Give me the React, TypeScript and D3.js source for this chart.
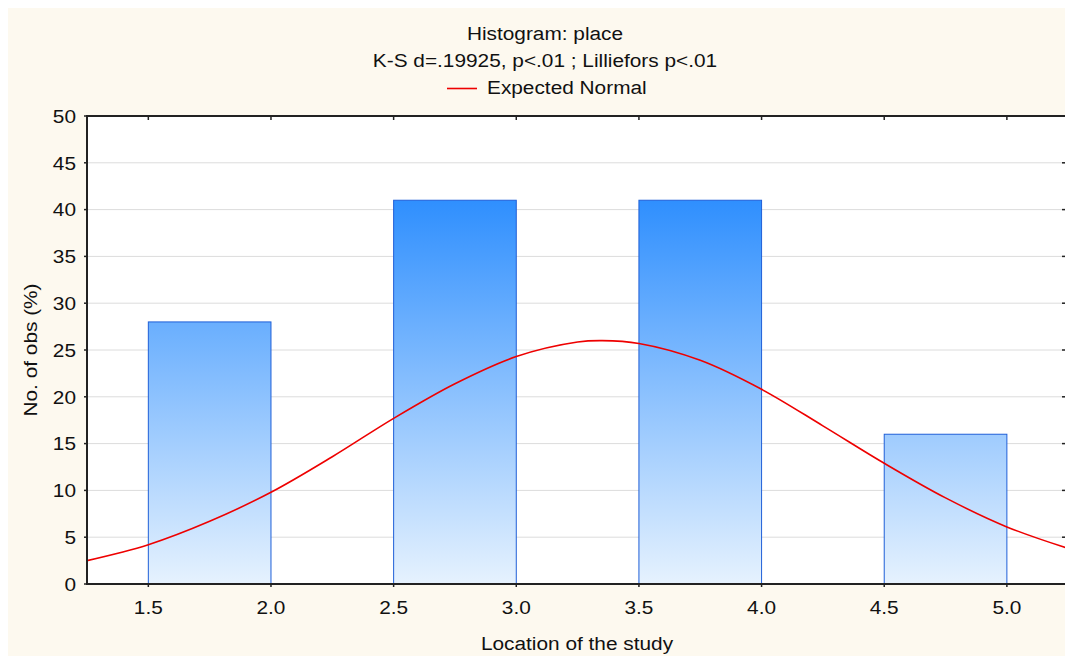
import React from "react";
import * as d3 from "d3";

const binStarts = [1.5, 2.5, 3.5, 4.5];
const binEnds = [2.0, 3.0, 4.0, 5.0];
const binPercents = [28, 41, 41, 16];

const curveX = [1.25, 1.5, 1.75, 2.0, 2.25, 2.5, 2.75, 3.0, 3.25, 3.35, 3.5, 3.75, 4.0, 4.25, 4.5, 4.75, 5.0, 5.25];
const curveY = [2.5, 4.2, 6.7, 9.8, 13.6, 17.7, 21.4, 24.3, 25.85, 26.0, 25.7, 23.9, 20.8, 16.9, 12.9, 9.2, 6.1, 3.8];

const xTicks = [1.5, 2.0, 2.5, 3.0, 3.5, 4.0, 4.5, 5.0];
const yTicks = [0, 5, 10, 15, 20, 25, 30, 35, 40, 45, 50];

const titleText = "Histogram: place";
const subtitleText = "K-S d=.19925, p<.01 ; Lilliefors p<.01";
const legendText = "Expected Normal";
const xLabel = "Location of the study";
const yLabel = "No. of obs (%)";

const W = 1065;
const H = 656;
const left = 87;
const top = 116;
const bottom = 584;
const FONT = "'Liberation Sans', Arial, sans-serif";
const FS = 18.6;
const SX = 1.12;

function T({ x, y, anchor = "middle", rotate = 0, children }: any) {
  return (
    <text
      transform={`translate(${x},${y}) rotate(${rotate}) scale(${SX},1)`}
      textAnchor={anchor}
      fontFamily={FONT}
      fontSize={FS}
      fill="#111"
    >
      {children}
    </text>
  );
}

export default function App() {
  const x = d3.scaleLinear().domain([1.25, 5.25]).range([left, left + 4 * 245.3]);
  const y = d3.scaleLinear().domain([0, 50]).range([bottom, top]);
  const right = x(5.25);

  const line = d3
    .line<number>()
    .x((_, i) => x(curveX[i]))
    .y((d) => y(d))
    .curve(d3.curveCatmullRom);

  return (
    <svg
      width={W}
      height={H}
      style={{ position: "absolute", left: 0, top: 0 }}
    >
      <defs>
        <linearGradient id="barGrad" gradientUnits="userSpaceOnUse" x1="0" y1={y(41)} x2="0" y2={y(0)}>
          <stop offset="0" stopColor="#2f8ffe" />
          <stop offset="1" stopColor="#e6f2fe" />
        </linearGradient>
        <clipPath id="plotClip">
          <rect x={left} y={top} width={right - left} height={bottom - top} />
        </clipPath>
      </defs>
      <rect x={8} y={8} width={W - 8} height={H - 8} fill="#fdf9ef" />
      <rect x={left} y={top} width={right - left} height={bottom - top} fill="#ffffff" />

      {yTicks.slice(1, -1).map((t) => (
        <line key={"g" + t} x1={left} x2={right} y1={y(t)} y2={y(t)} stroke="#dcdcdc" strokeWidth={1} />
      ))}

      {binPercents.map((v, i) => (
        <rect
          key={"b" + i}
          x={x(binStarts[i])}
          y={y(v)}
          width={x(binEnds[i]) - x(binStarts[i])}
          height={y(0) - y(v)}
          fill="url(#barGrad)"
          stroke="#1f5fd8"
          strokeWidth={1}
        />
      ))}

      <path d={line(curveY) || ""} fill="none" stroke="#ee0000" strokeWidth={1.6} clipPath="url(#plotClip)" />

      {/* axes */}
      <line x1={left} x2={left} y1={top} y2={bottom + 1} stroke="#222" strokeWidth={2} />
      <line x1={left - 1} x2={right} y1={bottom} y2={bottom} stroke="#222" strokeWidth={2} />
      <line x1={left - 1} x2={right} y1={top} y2={top} stroke="#222" strokeWidth={2} />
      <line x1={right} x2={right} y1={top} y2={bottom} stroke="#222" strokeWidth={2} />

      {yTicks.map((t) => (
        <g key={"yt" + t}>
          <line x1={left - 3} x2={left} y1={y(t)} y2={y(t)} stroke="#222" strokeWidth={1.5} />
          <line x1={W - 3} x2={W} y1={y(t)} y2={y(t)} stroke="#222" strokeWidth={1.5} />
          <T x={76} y={y(t) + 6.7} anchor="end">{t}</T>
        </g>
      ))}

      {xTicks.map((t) => (
        <g key={"xt" + t}>
          <line x1={x(t)} x2={x(t)} y1={bottom} y2={bottom + 3} stroke="#222" strokeWidth={1.5} />
          <line x1={x(t)} x2={x(t)} y1={top} y2={top + 4} stroke="#222" strokeWidth={1.5} />
          <T x={x(t)} y={614}>{t.toFixed(1)}</T>
        </g>
      ))}

      <T x={545} y={40}>{titleText}</T>
      <T x={545} y={67}>{subtitleText}</T>
      <line x1={447} x2={477} y1={88.5} y2={88.5} stroke="#ee0000" strokeWidth={1.6} />
      <T x={487} y={94} anchor="start">{legendText}</T>

      <T x={577} y={650}>{xLabel}</T>
      <T x={37} y={350} rotate={-90}>{yLabel}</T>
    </svg>
  );
}
